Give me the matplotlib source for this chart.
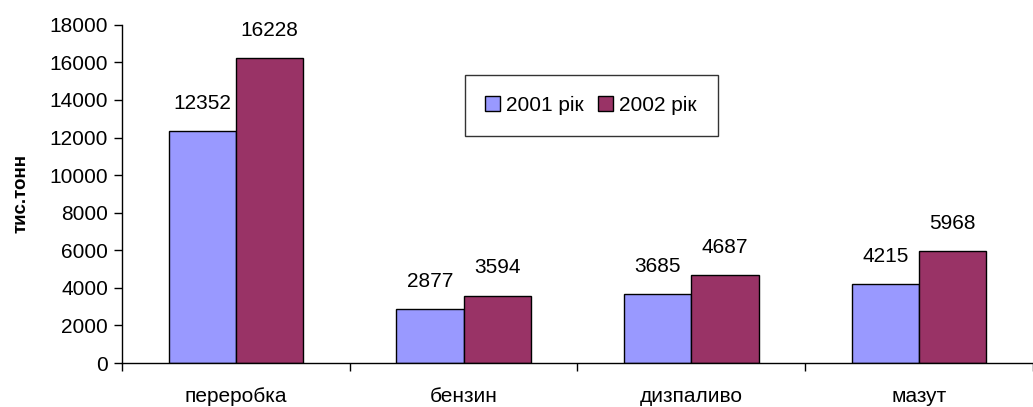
import numpy as np
import matplotlib.pyplot as plt

# data
categories = ['переробка', 'бензин', 'дизпаливо', 'мазут']
values_2001 = [12352, 2877, 3685, 4215]
values_2002 = [16228, 3594, 4687, 5968]
series_names = ['2001 рік', '2002 рік']
y_ticks = [0, 2000, 4000, 6000, 8000, 10000, 12000, 14000, 16000, 18000]

plt.rcParams['font.family'] = ['Liberation Sans', 'DejaVu Sans']

fig = plt.figure(figsize=(10.33, 4.07), dpi=100)
ax = fig.add_axes([0.118, 0.108, 0.882, 0.831])

x = np.arange(len(categories))
w = 0.295
b1 = ax.bar(x - w / 2, values_2001, w, color='#9999FF', edgecolor='black',
            linewidth=1, label=series_names[0])
b2 = ax.bar(x + w / 2, values_2002, w, color='#993366', edgecolor='black',
            linewidth=1, label=series_names[1])

for bars in (b1, b2):
    for r in bars:
        ax.annotate(str(int(r.get_height())),
                    (r.get_x() + r.get_width() / 2, r.get_height()),
                    xytext=(0, 13), textcoords='offset points',
                    ha='center', va='bottom', fontsize=15)

ax.set_xlim(-0.5, len(categories) - 0.5)
ax.set_ylim(0, 18000)
ax.set_yticks(y_ticks)
ax.tick_params(axis='y', labelsize=15, length=6, width=1, direction='out', pad=4)

# category labels without ticks, ticks on the boundaries
ax.set_xticks(x)
ax.set_xticklabels(categories, fontsize=15)
ax.tick_params(axis='x', which='major', length=0, pad=17)
ax.set_xticks(np.arange(len(categories) + 1) - 0.5, minor=True)
ax.tick_params(axis='x', which='minor', length=6, width=1, direction='out')

for s in ('top', 'right'):
    ax.spines[s].set_visible(False)
for s in ('left', 'bottom'):
    ax.spines[s].set_linewidth(1)
    ax.spines[s].set_color('black')

ax.set_ylabel('тис.тонн', fontsize=13.5, fontweight='bold', labelpad=14)

leg = ax.legend(loc='center', bbox_to_anchor=(0.515, 0.762), ncol=2,
                frameon=True, fancybox=False, fontsize=15, handlelength=0.7,
                handleheight=0.7, handletextpad=0.3, columnspacing=0.7,
                borderpad=1.0, borderaxespad=0)
leg.get_frame().set_edgecolor('black')
leg.get_frame().set_linewidth(1)

plt.savefig('out.png', dpi=100)
